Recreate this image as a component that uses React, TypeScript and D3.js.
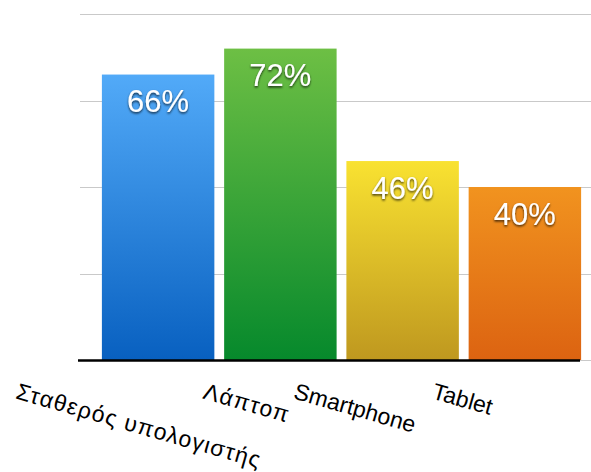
import React, { useLayoutEffect, useRef } from "react";
import * as d3 from "d3";

const categories = ["Σταθερός υπολογιστής", "Λάπτοπ", "Smartphone", "Tablet"];
const values = [66, 72, 46, 40];
const gridTicks = [0, 20, 40, 60, 80];
const topColors = ["#52aaf8", "#6dbf44", "#f9e231", "#f1931f"];
const bottomColors = ["#0860c0", "#06892c", "#bf981f", "#dc6311"];

const W = 591;
const H = 472;

export default function App() {
  const ref = useRef<SVGSVGElement | null>(null);

  useLayoutEffect(() => {
    const svg = d3.select(ref.current);
    svg.selectAll("*").remove();

    const x = d3.scaleBand<string>().domain(categories).range([97, 586]).paddingInner(0.08).paddingOuter(0.04);
    const y = d3.scaleLinear().domain([0, 80]).range([360, 14]);
    const labelX = d3.scalePoint<string>().domain(categories).range([139, 463]);

    const defs = svg.append("defs");
    categories.forEach((c, i) => {
      const g = defs
        .append("linearGradient")
        .attr("id", `grad${i}`)
        .attr("x1", 0)
        .attr("y1", 0)
        .attr("x2", 0)
        .attr("y2", 1);
      g.append("stop").attr("offset", "0%").attr("stop-color", topColors[i]);
      g.append("stop").attr("offset", "100%").attr("stop-color", bottomColors[i]);
    });
    const f = defs.append("filter").attr("id", "shadow").attr("x", "-20%").attr("y", "-20%").attr("width", "140%").attr("height", "160%");
    f.append("feDropShadow")
      .attr("dx", 0)
      .attr("dy", 1.5)
      .attr("stdDeviation", 1.3)
      .attr("flood-color", "#000")
      .attr("flood-opacity", 0.75);

    // grid lines
    svg
      .append("g")
      .selectAll("line")
      .data(gridTicks)
      .join("line")
      .attr("x1", 80)
      .attr("x2", W)
      .attr("y1", (d) => Math.round(y(d)) + 0.5)
      .attr("y2", (d) => Math.round(y(d)) + 0.5)
      .attr("stroke", "#c9c9c9")
      .attr("stroke-width", 1);

    // bars
    svg
      .append("g")
      .selectAll("rect")
      .data(values)
      .join("rect")
      .attr("x", (_, i) => x(categories[i])!)
      .attr("width", x.bandwidth())
      .attr("y", (d) => y(d))
      .attr("height", (d) => y(0) - y(d))
      .attr("fill", (_, i) => `url(#grad${i})`);

    // baseline axis
    svg
      .append("line")
      .attr("x1", 78)
      .attr("x2", 580)
      .attr("y1", y(0) + 0.5)
      .attr("y2", y(0) + 0.5)
      .attr("stroke", "#000")
      .attr("stroke-width", 2.6);

    // value labels
    svg
      .append("g")
      .selectAll("text")
      .data(values)
      .join("text")
      .attr("x", (_, i) => x(categories[i])! + x.bandwidth() / 2)
      .attr("y", (d) => y(d) + 37.5)
      .attr("text-anchor", "middle")
      .attr("fill", "#fff")
      .attr("font-family", "'Liberation Sans', Arial, Helvetica, sans-serif")
      .attr("font-size", 31)
      .attr("filter", "url(#shadow)")
      .text((d) => `${d}%`);

    // rotated category labels, placed by their bounding-box centre
    const angle = 16;
    const labelTop = 378;
    const lg = svg.append("g");
    categories.forEach((c) => {
      const isGreek = /[\u0370-\u03ff]/.test(c);
      const t = lg
        .append("text")
        .attr("font-family", "'Liberation Sans', Arial, Helvetica, sans-serif")
        .attr("font-size", 23)
        .attr("letter-spacing", isGreek ? 1.2 : 0)
        .attr("fill", "#000")
        .attr("transform", `translate(0,0) rotate(${angle})`)
        .text(c);
      const node = t.node() as SVGTextElement;
      const r = node.getBoundingClientRect();
      const svgR = (ref.current as SVGSVGElement).getBoundingClientRect();
      const cx = r.left - svgR.left + r.width / 2;
      const top = r.top - svgR.top;
      const dx = labelX(c)! - cx;
      const dy = labelTop - top;
      t.attr("transform", `translate(${dx},${dy}) rotate(${angle})`);
    });
  }, []);

  return (
    <svg
      ref={ref}
      width={W}
      height={H}
      style={{ display: "block", position: "absolute", left: 0, top: 0, background: "#fff" }}
    />
  );
}
